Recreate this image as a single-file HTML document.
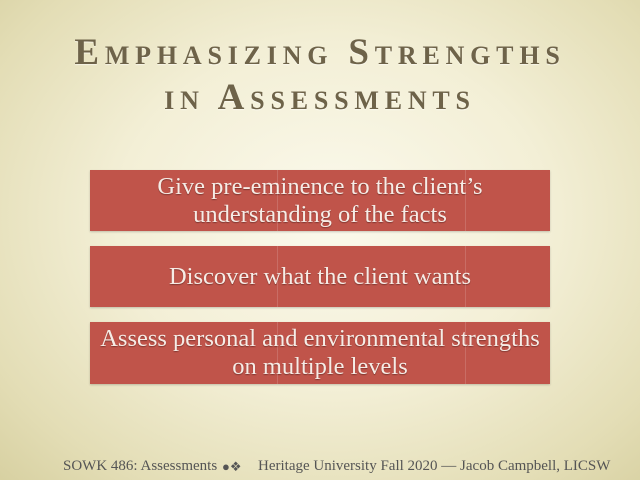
<!DOCTYPE html>
<html><head><meta charset="utf-8"><style>
body{margin:0}
#s{position:relative;width:640px;height:480px;overflow:hidden;font-family:"Liberation Serif",serif;
background:radial-gradient(ellipse 75% 80% at 52% 45%,#fbf9ec 0%,#f3efd6 45%,#e3ddb5 80%,#d6cf9f 100%);}
.t{position:absolute;left:0;width:640px;text-align:center;color:#6e6349;font-size:37px;font-variant:small-caps;font-weight:bold;letter-spacing:5.8px;text-shadow:0 1px 1px rgba(255,255,255,.6)}
.b{position:absolute;left:90px;width:460px;background:#c0544a;color:#f6ece6;font-size:24.5px;text-align:center;display:flex;align-items:center;justify-content:center;line-height:28px;text-shadow:0 1px 1px rgba(0,0,0,.35);box-shadow:0 1px 2px rgba(0,0,0,.2)}
.v{position:absolute;top:0;bottom:0;width:1px;background:rgba(255,255,255,.15)}
.f{position:absolute;top:458px;font-size:15px;color:#555;white-space:nowrap}
</style></head><body>
<div id="s">
<div class="t" style="top:31px">Emphasizing Strengths</div>
<div class="t" style="top:76px">in Assessments</div>
<div class="b" style="top:170px;height:61px"><div class="v" style="left:187px"></div><div class="v" style="left:375px"></div>Give pre-eminence to the client’s<br>understanding of the facts</div>
<div class="b" style="top:246px;height:61px"><div class="v" style="left:187px"></div><div class="v" style="left:375px"></div>Discover what the client wants</div>
<div class="b" style="top:322px;height:62px"><div class="v" style="left:187px"></div><div class="v" style="left:375px"></div>Assess personal and environmental strengths<br>on multiple levels</div>
<div class="f" style="left:63px">SOWK 486: Assessments</div>
<div class="f" style="left:222px;font-size:13px;top:459px">●❖</div>
<div class="f" style="left:258px">Heritage University Fall 2020 — Jacob Campbell, LICSW</div>
</div>
</body></html>
